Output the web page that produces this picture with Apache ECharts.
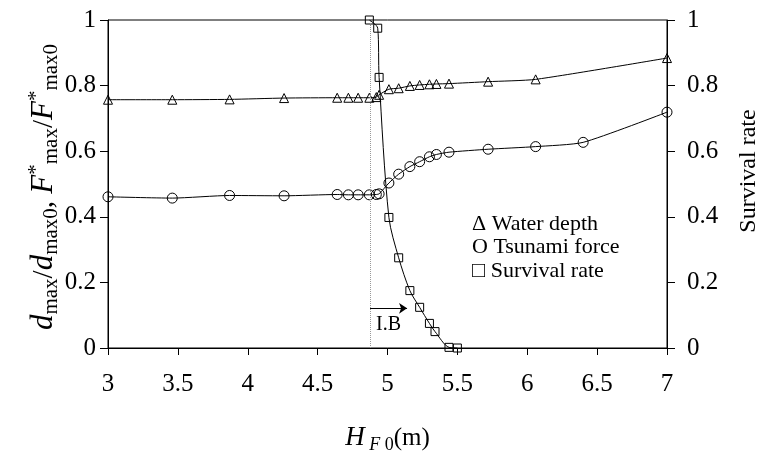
<!DOCTYPE html>
<html>
<head>
<meta charset="utf-8">
<title>Survival rate vs H_F0</title>
<script src="https://cdn.jsdelivr.net/npm/echarts@6/dist/echarts.min.js"></script>
<style>
  html, body { margin: 0; padding: 0; background: #fff; }
  #chart { width: 760px; height: 452px; }
</style>
</head>
<body>
<div id="chart"></div>
<script>
// water depth (triangles), left axis
var depthX = [3.0, 3.46, 3.87, 4.26, 4.64, 4.72, 4.79, 4.87, 4.92, 4.94, 5.01, 5.08, 5.16, 5.23, 5.30, 5.35, 5.44, 5.72, 6.06, 7.0];
var depthY = [0.757, 0.757, 0.758, 0.762, 0.763, 0.763, 0.763, 0.763, 0.765, 0.772, 0.789, 0.792, 0.799, 0.802, 0.804, 0.805, 0.806, 0.812, 0.819, 0.884];
// tsunami force (circles), left axis
var forceX = [3.0, 3.46, 3.87, 4.26, 4.64, 4.72, 4.79, 4.87, 4.92, 4.94, 5.01, 5.08, 5.16, 5.23, 5.30, 5.35, 5.44, 5.72, 6.06, 6.40, 7.0];
var forceY = [0.461, 0.457, 0.465, 0.464, 0.468, 0.467, 0.467, 0.467, 0.468, 0.470, 0.503, 0.530, 0.553, 0.568, 0.583, 0.590, 0.597, 0.606, 0.614, 0.627, 0.719];
// survival rate (squares), right axis
var survX = [4.87, 4.93, 4.94, 5.01, 5.08, 5.16, 5.23, 5.30, 5.34, 5.44, 5.50];
var survY = [1.0, 0.975, 0.825, 0.398, 0.275, 0.175, 0.124, 0.075, 0.05, 0.002, 0.0];
// I.B threshold and arrow
var ibX = 4.875;
var arrowEndX = 5.14;
var arrowY = 0.121;

var FONT = 'Liberation Serif';

function pairs(xs, ys) {
  var out = [];
  for (var i = 0; i < xs.length; i++) out.push([xs[i], ys[i]]);
  return out;
}

var hollow = { color: 'rgba(0,0,0,0)', borderColor: '#000', borderWidth: 1 };
var prefix = { 'Water depth': '\u0394 ', 'Tsunami force': 'O ', 'Survival rate': '\u25A1 ' };

var chart = echarts.init(document.getElementById('chart'));
var option = {
  animation: false,
  backgroundColor: '#fff',
  textStyle: { fontFamily: FONT, color: '#000' },
  grid: {
    left: 108, right: 93, top: 20, bottom: 104,
    outerBoundsMode: 'none', containLabel: false,
    show: true, borderColor: '#000', borderWidth: 1
  },
  legend: {
    orient: 'vertical',
    left: 462, top: 208,
    icon: 'none', itemWidth: 0, itemHeight: 12, itemGap: 1.5,
    selectedMode: false,
    textStyle: { fontFamily: FONT, fontSize: 22, color: '#000', lineHeight: 22 },
    formatter: function (n) { return prefix[n] + n; },
    data: ['Water depth', 'Tsunami force', 'Survival rate']
  },
  xAxis: {
    type: 'value', min: 3, max: 7, interval: 0.5,
    name: '{i|H}{si| F}{s| 0}{n|(m)}',
    nameLocation: 'middle', nameGap: 74,
    nameTextStyle: {
      rich: {
        i: { fontFamily: FONT, fontStyle: 'italic', fontSize: 27, lineHeight: 32, color: '#000' },
        si: { fontFamily: FONT, fontStyle: 'italic', fontSize: 18, lineHeight: 18, verticalAlign: 'bottom', color: '#000' },
        s: { fontFamily: FONT, fontSize: 18, lineHeight: 18, verticalAlign: 'bottom', color: '#000' },
        n: { fontFamily: FONT, fontSize: 25, lineHeight: 32, color: '#000' }
      }
    },
    axisLine: { lineStyle: { color: '#000', width: 1 } },
    axisTick: { inside: false, length: 7, lineStyle: { color: '#000' } },
    axisLabel: { fontFamily: FONT, fontSize: 25, color: '#000', margin: 24 },
    splitLine: { show: false }
  },
  yAxis: [{
    type: 'value', min: 0, max: 1, interval: 0.2, position: 'left',
    name: '{i|d}{s|max}{n|/}{i|d}{s|max0}{n|, }{i|F}{u|*}{s|max}{n|/}{i|F}{u|*}{s|max0}',
    nameLocation: 'middle', nameRotate: 90, nameGap: 46, nameMoveOverlap: false,
    nameTextStyle: {
      padding: [0, 6, 0, 0],
      rich: {
        i: { fontFamily: FONT, fontStyle: 'italic', fontSize: 31, lineHeight: 36, color: '#000' },
        s: { fontFamily: FONT, fontSize: 21, lineHeight: 21, verticalAlign: 'bottom', color: '#000' },
        u: { fontFamily: FONT, fontSize: 21, lineHeight: 21, verticalAlign: 'top', color: '#000' },
        n: { fontFamily: FONT, fontSize: 29, lineHeight: 36, color: '#000' }
      }
    },
    axisLine: { show: true, lineStyle: { color: '#000', width: 1 } },
    axisTick: { show: true, inside: false, length: 8, lineStyle: { color: '#000' } },
    axisLabel: { fontFamily: FONT, fontSize: 25, color: '#000', margin: 12 },
    splitLine: { show: false }
  }, {
    type: 'value', min: 0, max: 1, interval: 0.2, position: 'right',
    name: 'Survival rate',
    nameLocation: 'middle', nameRotate: 90, nameGap: 70,
    nameTextStyle: { fontFamily: FONT, fontSize: 24, color: '#000', padding: [0, 0, 0, 26] },
    axisLine: { show: true, lineStyle: { color: '#000', width: 1 } },
    axisTick: { show: true, inside: false, length: 8, lineStyle: { color: '#000' } },
    axisLabel: { fontFamily: FONT, fontSize: 25, color: '#000', margin: 20 },
    splitLine: { show: false }
  }],
  series: [{
    name: 'Water depth', type: 'line', yAxisIndex: 0,
    data: pairs(depthX, depthY),
    symbol: 'triangle', symbolSize: 9, smooth: 0.2,
    lineStyle: { color: '#000', width: 1 },
    itemStyle: hollow
  }, {
    name: 'Tsunami force', type: 'line', yAxisIndex: 0,
    data: pairs(forceX, forceY),
    symbol: 'circle', symbolSize: 10, smooth: 0.2,
    lineStyle: { color: '#000', width: 1 },
    itemStyle: hollow
  }, {
    name: 'Survival rate', type: 'line', yAxisIndex: 1,
    data: pairs(survX, survY),
    symbol: 'rect', symbolSize: 8, smooth: 0.3,
    lineStyle: { color: '#000', width: 1 },
    itemStyle: hollow,
    markLine: {
      silent: true, animation: false,
      symbol: ['none', 'none'],
      data: [
        [{ coord: [ibX, 0], lineStyle: { color: '#999', type: 'dotted', width: 1 }, label: { show: false } },
         { coord: [ibX, 1] }],
        [{ coord: [ibX, arrowY], symbol: 'none', lineStyle: { color: '#000', type: 'solid', width: 1 },
           label: { show: true, formatter: 'I.B', position: 'insideMiddleBottom', distance: 6,
                    fontFamily: FONT, fontSize: 20, color: '#000' } },
         { coord: [arrowEndX, arrowY], symbol: 'arrow', symbolSize: 8 }]
      ]
    }
  }]
};
chart.setOption(option);
</script>
</body>
</html>
